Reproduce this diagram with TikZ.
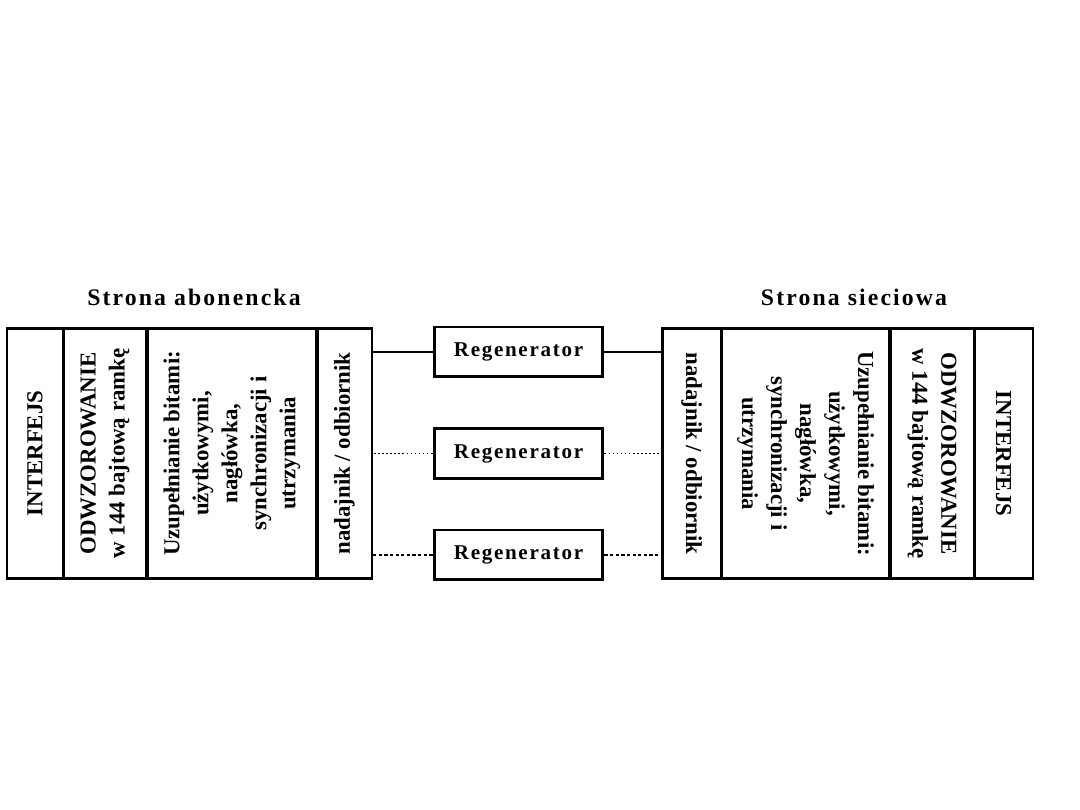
\documentclass[tikz,border=0pt]{standalone}
\usepackage{fontspec}
\setmainfont{Liberation Serif}
\newfontfamily\spacedfont[LetterSpace=9]{Liberation Serif}
\newfontfamily\regfont[LetterSpace=8]{Liberation Serif}
\begin{document}
\begin{tikzpicture}[x=0.02cm,y=-0.02cm,
  col/.style={draw,line width=1.7pt,inner sep=0pt,minimum width=5.02cm,align=center,
    font=\fontsize{13pt}{16.5pt}\selectfont\bfseries},
  regbox/.style={draw,line width=1.7pt,inner sep=0pt,minimum width=3.38cm,minimum height=1.0cm,
    font=\regfont\fontsize{12pt}{14pt}\selectfont\bfseries},
  title/.style={font=\spacedfont\fontsize{13.5pt}{16pt}\selectfont\bfseries},
  solidlink/.style={line width=1.7pt},
  dotlink/.style={line width=1pt,dash pattern=on 1pt off 1.3pt},
  dashlink/.style={line width=1pt,dash pattern=on 1.8pt off 1.4pt}]
\useasboundingbox (0,0) rectangle (1080,810);
% left side
\node[col,rotate=90,minimum height=1.12cm] (L1) at (35,453.5) {INTERFEJS};
\node[col,rotate=90,minimum height=1.68cm] (L2) at (105,453.5) {ODWZOROWANIE\\w 144 bajtową ramkę};
\node[col,rotate=90,minimum height=3.4cm] (L3) at (232,453.5) {Uzupełnianie bitami:\\użytkowymi,\\nagłówka,\\synchronizacji i\\utrzymania};
\node[col,rotate=90,minimum height=1.1cm] (L4) at (344.5,453.5) {nadajnik / odbiornik};
% right side
\node[col,rotate=-90,minimum height=1.18cm] (R1) at (691.5,453.5) {nadajnik / odbiornik};
\node[col,rotate=-90,minimum height=3.38cm] (R2) at (805.5,453.5) {Uzupełnianie bitami:\\użytkowymi,\\nagłówka,\\synchronizacji i\\utrzymania};
\node[col,rotate=-90,minimum height=1.68cm] (R3) at (932,453.5) {ODWZOROWANIE\\w 144 bajtową ramkę};
\node[col,rotate=-90,minimum height=1.18cm] (R4) at (1003.5,453.5) {INTERFEJS};
% titles
\node[title] (tL) at (194,297) {Strona abonencka};
\node[title] (tR) at (854,297) {Strona sieciowa};
% regenerators
\node[regbox] (G1) at (518.5,352) {Regenerator};
\node[regbox] (G2) at (518.5,453.5) {Regenerator};
\node[regbox] (G3) at (518.5,555) {Regenerator};
% connectors
\draw[solidlink] (G1.west) -- (G1.west -| L4.south);
\draw[solidlink] (G1.east) -- (G1.east -| R1.south);
\draw[dotlink] (G2.west) -- (G2.west -| L4.south);
\draw[dotlink] (G2.east) -- (G2.east -| R1.south);
\draw[dashlink] (G3.west) -- (G3.west -| L4.south);
\draw[dashlink] (G3.east) -- (G3.east -| R1.south);
\end{tikzpicture}
\end{document}
